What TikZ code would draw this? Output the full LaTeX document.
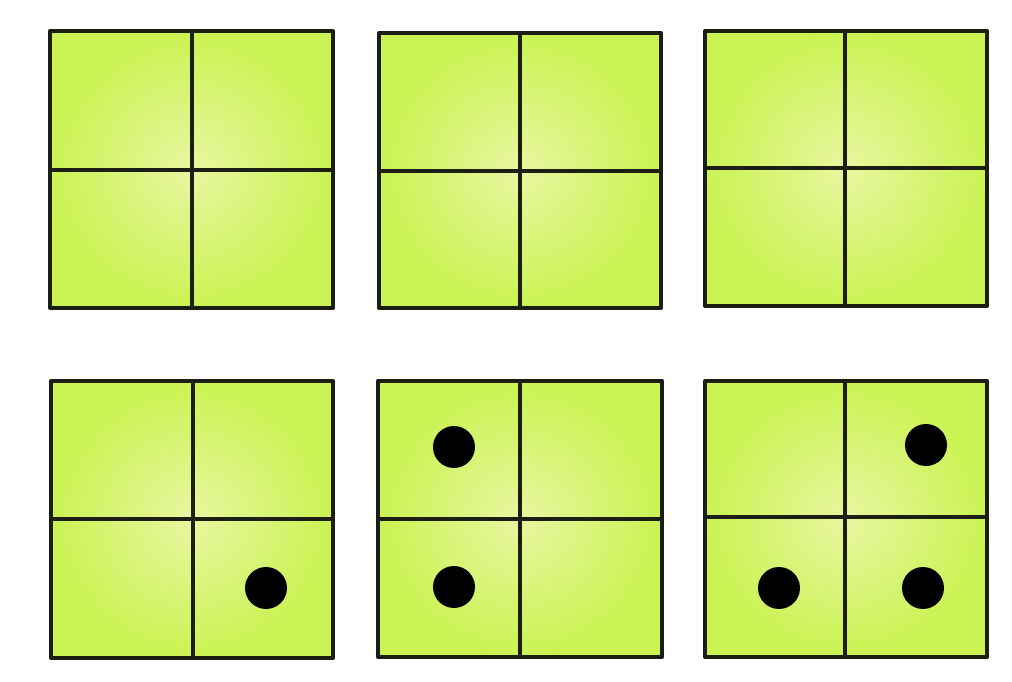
\documentclass[tikz,border=0pt]{standalone}
\usepackage{tikz}

\definecolor{cellin}{RGB}{232,246,160}
\definecolor{cellout}{RGB}{202,243,82}
\definecolor{gridline}{RGB}{28,30,20}

\tikzset{
	gridframe/.style={draw=gridline, line width=2.3pt, line join=round},
	gridfill/.style={inner color=cellin, outer color=cellout},
	dot/.style={fill=black}
}

\begin{document}
\begin{tikzpicture}[x=0.02cm, y=-0.02cm]
	\useasboundingbox (0,0) rectangle (1012,682);
	% six 2x2 grids: left/top/right/bottom/middle x/middle y
	\foreach \l/\t/\r/\b/\mx/\my in {50/31/333/308/192/170, 379/33/661/308/520/171, 705/31/987/306/845/168,
		51/381/333/658/193/519, 378/381/662/657/520/519, 705/381/987/657/845/517} {
		\shade[gridfill] (\l,\t) rectangle (\r,\b);
		\draw[gridframe] (\l,\t) rectangle (\r,\b);
		\draw[gridframe] (\mx,\t) -- (\mx,\b);
		\draw[gridframe] (\l,\my) -- (\r,\my);
	}
	% dots
	\foreach \x/\y in {266/588, 454/447, 454/587, 926/445, 779/588, 923/588} {
		\fill[dot] (\x,\y) circle[radius=21];
	}
\end{tikzpicture}
\end{document}
